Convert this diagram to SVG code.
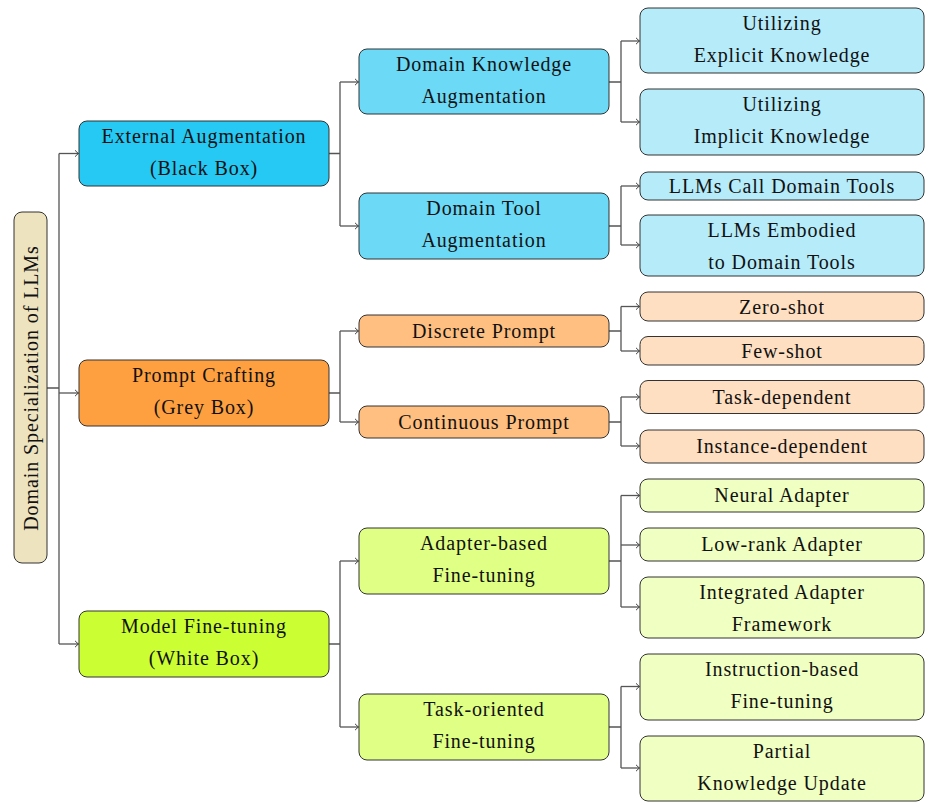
<svg xmlns="http://www.w3.org/2000/svg" width="931" height="810" viewBox="0 0 931 810">
<defs>
<marker id="arr" markerUnits="userSpaceOnUse" markerWidth="10" markerHeight="10" refX="0" refY="0" viewBox="-5 -5 10 10" orient="auto" overflow="visible">
<path d="M-3.5,-3.2 Q-1.2,-0.8 0,0 Q-1.2,0.8 -3.5,3.2" fill="none" stroke="#444" stroke-width="1"/>
</marker>
<style>
.n rect{stroke:#333;stroke-width:1}
text{font-family:"Liberation Serif","Times New Roman",serif;font-size:20px;fill:#111;text-anchor:middle;letter-spacing:0.9px}
.c path{fill:none;stroke:#555;stroke-width:1.3}
.a{marker-end:url(#arr)}
.root{fill:#EDE3BF}
.e1{fill:#26C9F3}.e2{fill:#6CD9F6}.e3{fill:#B6EBFA}
.p1{fill:#FFA040}.p2{fill:#FFBF80}.p3{fill:#FFDFC2}
.m1{fill:#CCFF33}.m2{fill:#E0FF85}.m3{fill:#F0FFC2}
</style>
</defs>
<rect width="931" height="810" fill="#fff"/>
<g class="c" id="connectors">
<path d="M47,388 H59 M59,153.5 V644"/>
<path class="a" d="M59,153.5 H78.5"/>
<path class="a" d="M59,393 H78.5"/>
<path class="a" d="M59,644 H78.5"/>
<path d="M329,153.5 H340 M340,82 V226"/>
<path class="a" d="M340,82 H358.5"/>
<path class="a" d="M340,226 H358.5"/>
<path d="M329,393 H340 M340,331 V422"/>
<path class="a" d="M340,331 H358.5"/>
<path class="a" d="M340,422 H358.5"/>
<path d="M329,644 H340 M340,561 V727"/>
<path class="a" d="M340,561 H358.5"/>
<path class="a" d="M340,727 H358.5"/>
<path d="M609,82 H621 M621,41 V122"/>
<path class="a" d="M621,41 H639.5"/>
<path class="a" d="M621,122 H639.5"/>
<path d="M609,226 H621 M621,186 V245"/>
<path class="a" d="M621,186 H639.5"/>
<path class="a" d="M621,245 H639.5"/>
<path d="M609,331 H621 M621,306.5 V351"/>
<path class="a" d="M621,306.5 H639.5"/>
<path class="a" d="M621,351 H639.5"/>
<path d="M609,422 H621 M621,397 V446"/>
<path class="a" d="M621,397 H639.5"/>
<path class="a" d="M621,446 H639.5"/>
<path d="M609,561 H621 M621,495.5 V607"/>
<path class="a" d="M621,495.5 H639.5"/>
<path class="a" d="M621,545 H639.5"/>
<path class="a" d="M621,607 H639.5"/>
<path d="M609,727 H621 M621,686.5 V768"/>
<path class="a" d="M621,686.5 H639.5"/>
<path class="a" d="M621,768 H639.5"/>
</g>
<g class="n" id="root"><rect class="root" x="14" y="212" width="33" height="351" rx="8"/><text transform="translate(38,388) rotate(-90)">Domain Specialization of LLMs</text></g>
<g class="n" id="external"><rect class="e1" x="79" y="121" width="250" height="65" rx="8"/><text x="204" y="143">External Augmentation</text><text x="204" y="175">(Black Box)</text></g>
<g class="n" id="prompt"><rect class="p1" x="79" y="360" width="250" height="66" rx="8"/><text x="204" y="382">Prompt Crafting</text><text x="204" y="414">(Grey Box)</text></g>
<g class="n" id="model"><rect class="m1" x="79" y="611" width="250" height="66" rx="8"/><text x="204" y="633">Model Fine-tuning</text><text x="204" y="665">(White Box)</text></g>
<g class="n" id="dka"><rect class="e2" x="359" y="49" width="250" height="65" rx="8"/><text x="484" y="71">Domain Knowledge</text><text x="484" y="103">Augmentation</text></g>
<g class="n" id="dta"><rect class="e2" x="359" y="193" width="250" height="66" rx="8"/><text x="484" y="215">Domain Tool</text><text x="484" y="247">Augmentation</text></g>
<g class="n" id="discrete"><rect class="p2" x="359" y="315" width="250" height="32" rx="8"/><text x="484" y="338">Discrete Prompt</text></g>
<g class="n" id="continuous"><rect class="p2" x="359" y="406" width="250" height="32" rx="8"/><text x="484" y="429">Continuous Prompt</text></g>
<g class="n" id="adapter"><rect class="m2" x="359" y="528" width="250" height="66" rx="8"/><text x="484" y="550">Adapter-based</text><text x="484" y="582">Fine-tuning</text></g>
<g class="n" id="task"><rect class="m2" x="359" y="694" width="250" height="66" rx="8"/><text x="484" y="716">Task-oriented</text><text x="484" y="748">Fine-tuning</text></g>
<g class="n" id="explicit"><rect class="e3" x="640" y="8" width="284" height="65" rx="8"/><text x="782" y="30">Utilizing</text><text x="782" y="62">Explicit Knowledge</text></g>
<g class="n" id="implicit"><rect class="e3" x="640" y="89" width="284" height="66" rx="8"/><text x="782" y="111">Utilizing</text><text x="782" y="143">Implicit Knowledge</text></g>
<g class="n" id="call"><rect class="e3" x="640" y="172" width="284" height="28" rx="8"/><text x="782" y="193">LLMs Call Domain Tools</text></g>
<g class="n" id="embodied"><rect class="e3" x="640" y="215" width="284" height="61" rx="8"/><text x="782" y="237">LLMs Embodied</text><text x="782" y="269">to Domain Tools</text></g>
<g class="n" id="zero"><rect class="p3" x="640" y="292" width="284" height="29" rx="8"/><text x="782" y="313.5">Zero-shot</text></g>
<g class="n" id="few"><rect class="p3" x="640" y="336.5" width="284" height="28.5" rx="8"/><text x="782" y="358">Few-shot</text></g>
<g class="n" id="taskdep"><rect class="p3" x="640" y="380.5" width="284" height="33" rx="8"/><text x="782" y="404">Task-dependent</text></g>
<g class="n" id="instdep"><rect class="p3" x="640" y="430" width="284" height="33" rx="8"/><text x="782" y="453">Instance-dependent</text></g>
<g class="n" id="neural"><rect class="m3" x="640" y="479" width="284" height="33" rx="8"/><text x="782" y="502">Neural Adapter</text></g>
<g class="n" id="lowrank"><rect class="m3" x="640" y="528" width="284" height="33" rx="8"/><text x="782" y="551">Low-rank Adapter</text></g>
<g class="n" id="integrated"><rect class="m3" x="640" y="577" width="284" height="61" rx="8"/><text x="782" y="599">Integrated Adapter</text><text x="782" y="631">Framework</text></g>
<g class="n" id="instruction"><rect class="m3" x="640" y="654" width="284" height="66" rx="8"/><text x="782" y="676">Instruction-based</text><text x="782" y="708">Fine-tuning</text></g>
<g class="n" id="partial"><rect class="m3" x="640" y="736" width="284" height="65" rx="8"/><text x="782" y="758">Partial</text><text x="782" y="790">Knowledge Update</text></g>
</svg>
